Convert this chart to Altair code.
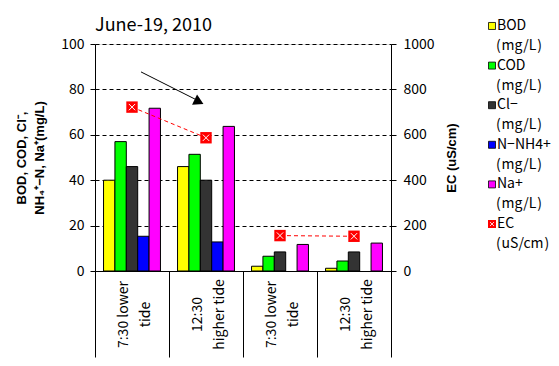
import json
import altair as alt
import pandas as pd

# ---------------- data ----------------
categories = [0, 1, 2, 3]
cat_labels = ["7:30 lower|tide", "12:30|higher tide", "7:30 lower|tide", "12:30|higher tide"]
series = ["BOD", "COD", "Cl-", "N-NH4+", "Na+"]
series_colors = ["#FFFF00", "#00FF00", "#333333", "#0000FF", "#FF00FF"]
bod = [40.0, 46.0, 2.1, 1.2]
cod = [57.0, 51.4, 6.5, 4.4]
cl = [46.0, 40.0, 8.4, 8.4]
nh4 = [15.3, 12.8, None, None]
na = [71.7, 63.7, 11.7, 12.3]
ec = [722, 587, 156, 153]
ec_pair = ["A", "A", "B", "B"]

legend_names = ["BOD", "COD", "Cl−", "N−NH4+", "Na+", "EC"]
legend_units = ["(\u200amg/L\u200a)", "(\u200amg/L\u200a)", "(\u200amg/L\u200a)", "(\u200amg/L\u200a)",
                "(\u200amg/L\u200a)", "(\u200auS/cm\u200a)"]
legend_colors = series_colors + ["#FF0000"]

# arrow annotation (left-axis units)
arrow_start = [87.7]
arrow_end = [75.5]
arrow_head = [74.5]

FONT = "Noto Sans CJK JP"
BFONT = "Liberation Sans"

rows = []
for s, vals in zip(series, [bod, cod, cl, nh4, na]):
    for c, v in zip(categories, vals):
        if v is not None:
            rows.append({"cat": c, "series": s, "value": v})
bar_df = pd.DataFrame(rows)
ec_df = pd.DataFrame({"cat": categories, "ec": ec, "pair": ec_pair})
arrow_df = pd.DataFrame({"value": arrow_start, "value2": arrow_end})
head_df = pd.DataFrame({"value": arrow_head})

label_expr = "isValid(datum.value) ? split(" + json.dumps(cat_labels) + "[datum.value], '|') : ''"

x_enc = alt.X(
    "cat:O",
    scale=alt.Scale(domain=categories, paddingInner=0, paddingOuter=0),
    axis=alt.Axis(
        title=None, tickBand="extent", tickSize=86, tickColor="black",
        domainColor="black",
        labelAngle=-90, labelAlign="center", labelBaseline="middle", labelPadding=-43,
        labelOffset=-9,
        labelExpr=label_expr, labelLineHeight=22, labelFontSize=14, labelFont=FONT,
        labelColor="black", labelOverlap=False, labelBound=False,
    ),
)

y_left = alt.Y(
    "value:Q",
    scale=alt.Scale(domain=[0, 100], nice=False),
    axis=alt.Axis(
        values=[0, 20, 40, 60, 80, 100], grid=True, gridDash=[4, 3], gridColor="black",
        gridWidth=1, gridOpacity=1, tickSize=5, tickColor="black", domainColor="black",
        labelFont=FONT, labelFontSize=14, labelPadding=6, labelColor="black",
        title=["BOD, COD, Cl⁻,", "NH₄⁺−N, Na⁺(mg/L)"], titleFont=BFONT, titleFontSize=13,
        titleFontWeight="bold", titlePadding=14, titleColor="black", titleLineHeight=18,
    ),
)

y_right = alt.Y(
    "ec:Q",
    scale=alt.Scale(domain=[0, 1000], nice=False),
    axis=alt.Axis(
        orient="right", values=[0, 200, 400, 600, 800, 1000], format="d", grid=False, tickSize=5,
        tickColor="black", domainColor="black", labelFont=FONT, labelFontSize=14,
        labelPadding=7, labelColor="black", title="EC (uS/cm)", titleAngle=270,
        titleFont=BFONT, titleFontSize=13, titleFontWeight="bold", titlePadding=24,
        titleColor="black",
    ),
)

bars = alt.Chart(bar_df).mark_bar(stroke="black", strokeWidth=1).encode(
    x=x_enc,
    xOffset=alt.XOffset("series:N", scale=alt.Scale(domain=series, paddingInner=0, paddingOuter=0.75)),
    y=y_left,
    color=alt.Color("series:N", scale=alt.Scale(domain=series, range=series_colors), legend=None),
)

arrow = alt.Chart(arrow_df).mark_rule(color="black", strokeWidth=1).encode(
    x=alt.value(46), x2=alt.value(101), y=y_left, y2="value2:Q"
)
head = alt.Chart(head_df).mark_point(
    shape="triangle-right", filled=True, color="black", size=130, angle=26, opacity=1
).encode(x=alt.value(104), y=y_left)

left_layer = alt.layer(bars, arrow, head)

ec_line = alt.Chart(ec_df).mark_line(color="red", strokeDash=[4, 3], strokeWidth=1).encode(
    x=x_enc, y=y_right, detail="pair:N"
)
ec_sq = alt.Chart(ec_df).mark_point(shape="square", filled=True, color="red", size=130, opacity=1).encode(
    x=x_enc, y=y_right
)
ec_x = alt.Chart(ec_df).mark_point(
    shape="M-1,-1L1,1M1,-1L-1,1", filled=False, stroke="white", strokeWidth=1, size=40, opacity=1
).encode(x=x_enc, y=y_right)

right_layer = alt.layer(ec_line, ec_sq, ec_x)

main = alt.layer(left_layer, right_layer).resolve_scale(y="independent").properties(
    width=296,
    height=227,
    title=alt.TitleParams(
        "June-19, 2010", anchor="start", frame="group", fontSize=18, font=FONT,
        fontWeight="normal", color="black", offset=5, dy=3,
    ),
)

# ---------------- legend panel ----------------
leg_df = pd.DataFrame({"idx": list(range(6)), "name": legend_names, "unit": legend_units, "color": legend_colors})
ly = alt.Y("idx:Q", scale=alt.Scale(domain=[0.455, 6.515], reverse=True, nice=False, zero=False), axis=None)

leg_sq = alt.Chart(leg_df).transform_filter("datum.idx < 5").mark_square(
    size=49, stroke="black", strokeWidth=0.8, opacity=1
).encode(x=alt.value(4), y=ly, color=alt.Color("color:N", scale=None))
leg_ec = alt.Chart(leg_df).transform_filter("datum.idx == 5").mark_square(
    size=64, color="red", opacity=1
).encode(x=alt.value(4), y=ly)
leg_ecx = alt.Chart(leg_df).transform_filter("datum.idx == 5").mark_point(
    shape="M-1,-1L1,1M1,-1L-1,1", filled=False, stroke="white", strokeWidth=0.8, size=16, opacity=1
).encode(x=alt.value(4), y=ly)
leg_name = alt.Chart(leg_df).mark_text(
    align="left", baseline="middle", fontSize=14, font=FONT, color="black"
).encode(x=alt.value(9), y=ly, text="name:N")
leg_unit = alt.Chart(leg_df).mark_text(
    align="left", baseline="middle", fontSize=14, font=FONT, color="black", dy=20
).encode(x=alt.value(8), y=ly, text="unit:N")

legend = alt.layer(leg_sq, leg_ec, leg_ecx, leg_name, leg_unit).properties(
    width=60, height=240, view=alt.ViewBackground(strokeOpacity=0)
)

chart = alt.hconcat(main, legend, spacing=27).properties(
    padding={"left": 7, "top": 8, "right": 0, "bottom": 0}
).configure_view(stroke="black", strokeWidth=1).configure(background="white")

chart.save("out.html", embed_options={"renderer": "svg", "actions": False})
